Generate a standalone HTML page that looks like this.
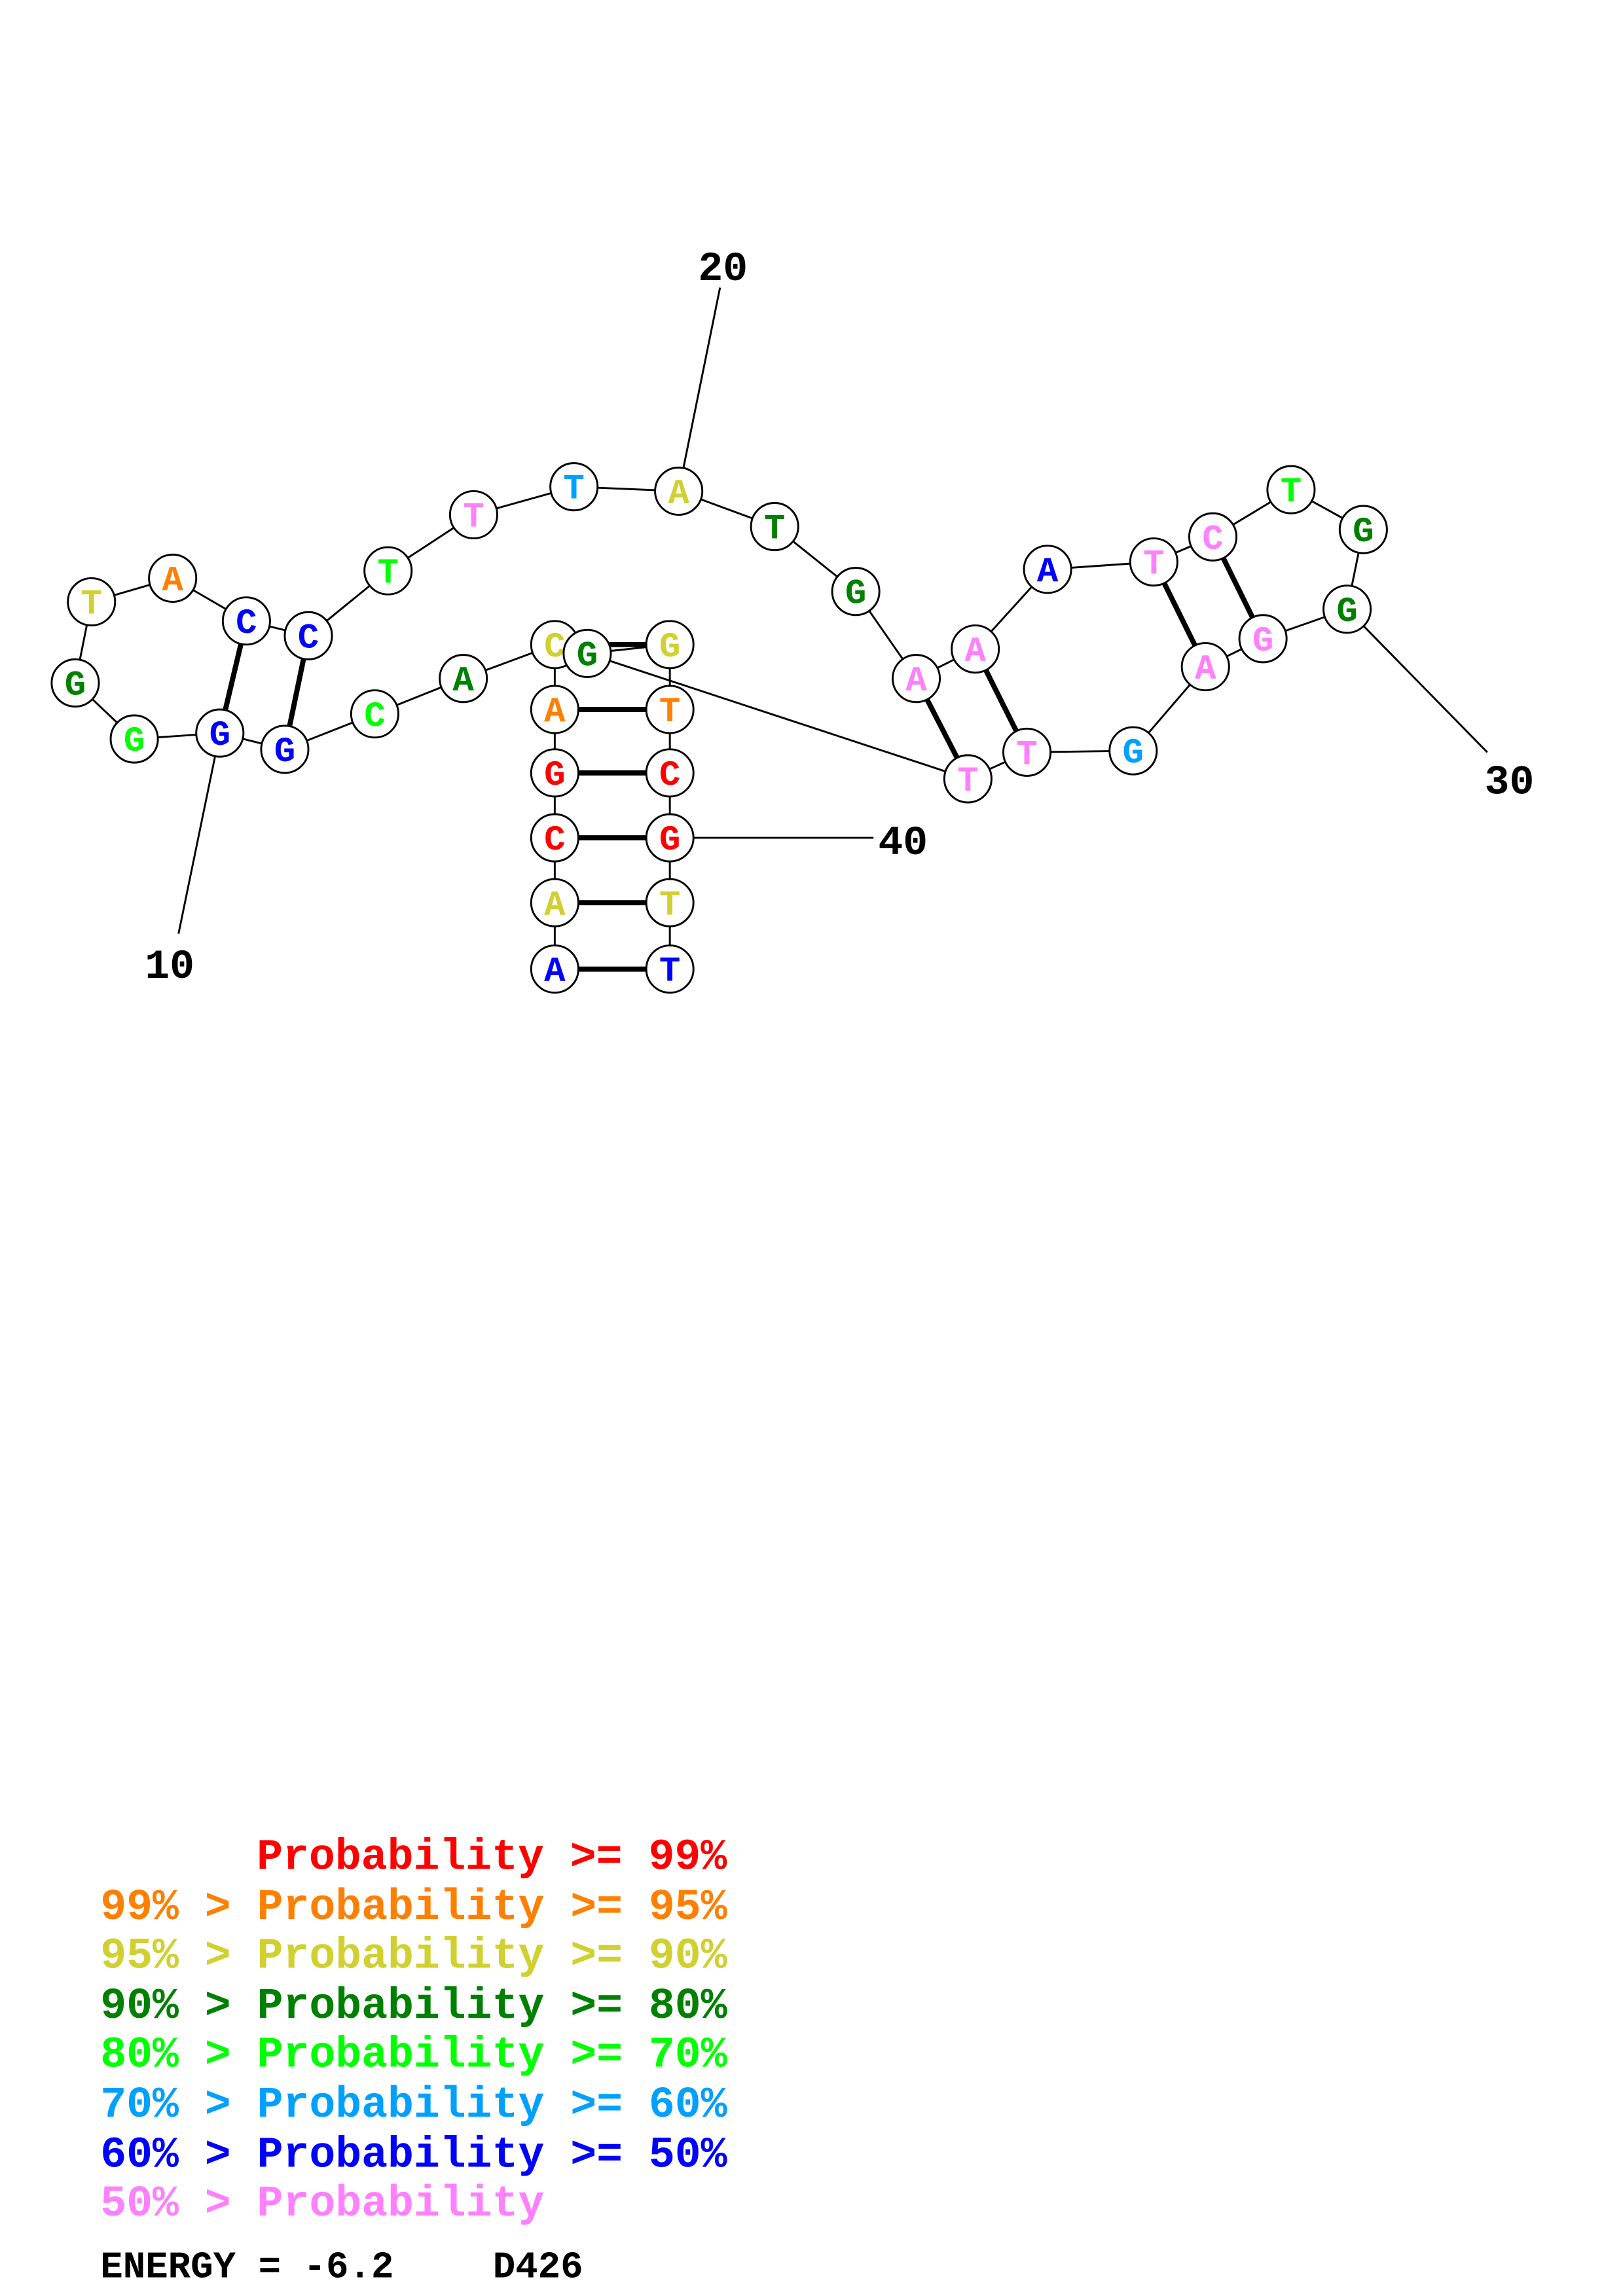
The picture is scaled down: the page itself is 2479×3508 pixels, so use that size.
<!DOCTYPE html>
<html><head><meta charset="utf-8"><style>html,body{margin:0;padding:0;background:#fff}svg{display:block}</style></head><body>
<svg xmlns="http://www.w3.org/2000/svg" width="2479" height="3508" viewBox="0 0 1100 1556.6">
<rect width="1100" height="1556.6" fill="#fff"/>
<g stroke="#000" stroke-width="1.3" fill="none">
<polyline points="376,657 376,612 376,568 376,524 376,481 376,437 314,460 254,484 193,508 149,497 91,501 51,463 62,408 117,392 167,421 209,431 263,387 321,349 389,330 460,333 525,357 580,401 621,460 661,440 710,386 782,381 822,364 875,332 924,359 913,413 856,433 817,452 768,509 696,510 656,528 398,443 454,437 454,481 454,524 454,568 454,612 454,657"/>
<line x1="149" y1="497" x2="121" y2="633"/>
<line x1="460" y1="333" x2="488" y2="195"/>
<line x1="913" y1="413" x2="1008" y2="510"/>
<line x1="454" y1="568" x2="592" y2="568"/>
</g>
<g stroke="#000" stroke-width="3.5">
<line x1="376" y1="657" x2="454" y2="657"/><line x1="376" y1="612" x2="454" y2="612"/>
<line x1="376" y1="568" x2="454" y2="568"/><line x1="376" y1="524" x2="454" y2="524"/>
<line x1="376" y1="481" x2="454" y2="481"/><line x1="376" y1="437" x2="454" y2="437"/>
<line x1="193" y1="508" x2="209" y2="431"/><line x1="149" y1="497" x2="167" y2="421"/>
<line x1="621" y1="460" x2="656" y2="528"/><line x1="661" y1="440" x2="696" y2="510"/>
<line x1="782" y1="381" x2="817" y2="452"/><line x1="822" y1="364" x2="856" y2="433"/>
</g>
<g stroke="#000" stroke-width="1.3" fill="#fff">
<circle cx="376" cy="657" r="16"/><circle cx="376" cy="612" r="16"/><circle cx="376" cy="568" r="16"/><circle cx="376" cy="524" r="16"/><circle cx="376" cy="481" r="16"/><circle cx="376" cy="437" r="16"/><circle cx="314" cy="460" r="16"/><circle cx="254" cy="484" r="16"/><circle cx="193" cy="508" r="16"/><circle cx="149" cy="497" r="16"/><circle cx="91" cy="501" r="16"/><circle cx="51" cy="463" r="16"/><circle cx="62" cy="408" r="16"/><circle cx="117" cy="392" r="16"/><circle cx="167" cy="421" r="16"/><circle cx="209" cy="431" r="16"/><circle cx="263" cy="387" r="16"/><circle cx="321" cy="349" r="16"/><circle cx="389" cy="330" r="16"/><circle cx="460" cy="333" r="16"/><circle cx="525" cy="357" r="16"/><circle cx="580" cy="401" r="16"/><circle cx="621" cy="460" r="16"/><circle cx="661" cy="440" r="16"/><circle cx="710" cy="386" r="16"/><circle cx="782" cy="381" r="16"/><circle cx="822" cy="364" r="16"/><circle cx="875" cy="332" r="16"/><circle cx="924" cy="359" r="16"/><circle cx="913" cy="413" r="16"/><circle cx="856" cy="433" r="16"/><circle cx="817" cy="452" r="16"/><circle cx="768" cy="509" r="16"/><circle cx="696" cy="510" r="16"/><circle cx="656" cy="528" r="16"/><circle cx="454" cy="437" r="16"/><circle cx="454" cy="481" r="16"/><circle cx="454" cy="524" r="16"/><circle cx="454" cy="568" r="16"/><circle cx="454" cy="612" r="16"/><circle cx="454" cy="657" r="16"/>
</g>
<g font-family="Liberation Mono, monospace" font-weight="bold" font-size="24" text-anchor="middle">
<text x="376" y="665" fill="#0000ff">A</text><text x="376" y="620" fill="#d0d030">A</text><text x="376" y="576" fill="#ff0000">C</text><text x="376" y="532" fill="#ff0000">G</text><text x="376" y="489" fill="#ff8000">A</text><text x="376" y="445" fill="#d0d030">C</text>
<text x="314" y="468" fill="#008000">A</text><text x="254" y="492" fill="#00ff00">C</text><text x="193" y="516" fill="#0000ff">G</text><text x="149" y="505" fill="#0000ff">G</text><text x="91" y="509" fill="#00ff00">G</text><text x="51" y="471" fill="#008000">G</text><text x="62" y="416" fill="#d0d030">T</text><text x="117" y="400" fill="#ff8000">A</text><text x="167" y="429" fill="#0000ff">C</text><text x="209" y="439" fill="#0000ff">C</text><text x="263" y="395" fill="#00ff00">T</text><text x="321" y="357" fill="#ff80ff">T</text><text x="389" y="338" fill="#00a0ff">T</text><text x="460" y="341" fill="#d0d030">A</text><text x="525" y="365" fill="#008000">T</text><text x="580" y="409" fill="#008000">G</text><text x="621" y="468" fill="#ff80ff">A</text><text x="661" y="448" fill="#ff80ff">A</text><text x="710" y="394" fill="#0000ff">A</text><text x="782" y="389" fill="#ff80ff">T</text><text x="822" y="372" fill="#ff80ff">C</text><text x="875" y="340" fill="#00ff00">T</text><text x="924" y="367" fill="#008000">G</text><text x="913" y="421" fill="#008000">G</text><text x="856" y="441" fill="#ff80ff">G</text><text x="817" y="460" fill="#ff80ff">A</text><text x="768" y="517" fill="#00a0ff">G</text><text x="696" y="518" fill="#ff80ff">T</text><text x="656" y="536" fill="#ff80ff">T</text>
<text x="454" y="445" fill="#d0d030">G</text><text x="454" y="489" fill="#ff8000">T</text><text x="454" y="532" fill="#ff0000">C</text><text x="454" y="576" fill="#ff0000">G</text><text x="454" y="620" fill="#d0d030">T</text><text x="454" y="665" fill="#0000ff">T</text>
</g>
<circle cx="398" cy="443" r="16" fill="#fff" stroke="#000" stroke-width="1.3"/>
<text x="398" y="451" font-family="Liberation Mono, monospace" font-weight="bold" font-size="24" text-anchor="middle" fill="#008000">G</text>
<g font-family="Liberation Mono, monospace" font-weight="bold" font-size="28" fill="#000" text-anchor="middle">
<text x="115" y="663">10</text><text x="490" y="190">20</text><text x="1023" y="538">30</text><text x="612" y="579">40</text>
</g>
<g font-family="Liberation Mono, monospace" font-weight="bold" font-size="29.5" style="white-space:pre">
<text x="174" y="1267" fill="#ff0000">Probability &gt;= 99%</text>
<text x="68" y="1301" fill="#ff8000">99% &gt; Probability &gt;= 95%</text>
<text x="68" y="1334" fill="#d0d030">95% &gt; Probability &gt;= 90%</text>
<text x="68" y="1368" fill="#008000">90% &gt; Probability &gt;= 80%</text>
<text x="68" y="1401" fill="#00ff00">80% &gt; Probability &gt;= 70%</text>
<text x="68" y="1435" fill="#00a0ff">70% &gt; Probability &gt;= 60%</text>
<text x="68" y="1469" fill="#0000ff">60% &gt; Probability &gt;= 50%</text>
<text x="68" y="1502" fill="#ff80ff">50% &gt; Probability</text>
<text x="68" y="1544" fill="#000" font-size="25.5">ENERGY = -6.2</text>
<text x="334" y="1544" fill="#000" font-size="25.5">D426</text>
</g>
</svg>
</body></html>
